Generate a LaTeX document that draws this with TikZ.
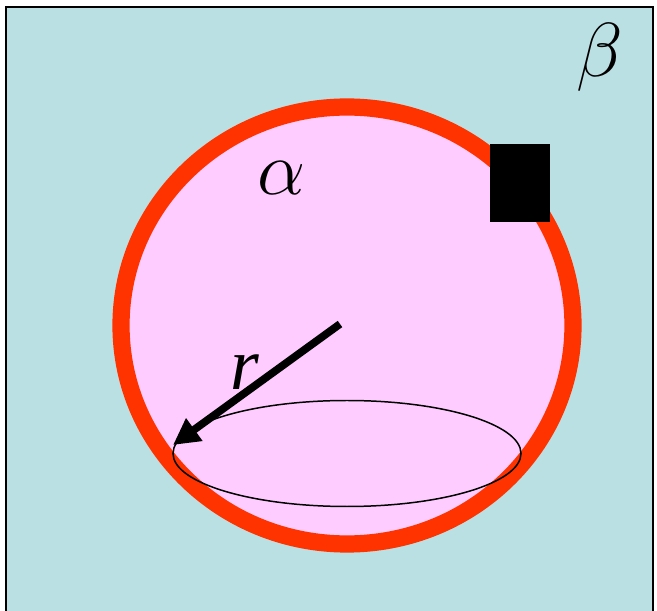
\documentclass[tikz,border=0pt]{standalone}
\usepackage{graphicx}
\usepackage{fontspec}
\setmainfont{Liberation Serif}
\usetikzlibrary{arrows.meta}
\definecolor{bgcyan}{RGB}{187,224,227}
\definecolor{phpink}{RGB}{255,204,255}
\definecolor{rimred}{RGB}{255,51,0}
\newcommand{\bigsym}[1]{\scalebox{1.75}{$#1$}}
\tikzset{
  sym/.style={inner sep=0pt, font=\fontsize{24.88}{30}\selectfont},
  rim/.style={draw=rimred, line width=9.8pt, fill=phpink},
  arr/.style={-{Triangle[length=15pt,width=15pt]}, line width=4.4pt}
}

\begin{document}
\begin{tikzpicture}[x=0.02cm, y=-0.02cm]
  \useasboundingbox (0,0) rectangle (657,611);
  \clip (0,0) rectangle (657,611);
  % matrix phase beta
  \draw[line width=1.1pt, fill=bgcyan] (6,7) rectangle (653,640);
  % particle alpha with its interface
  \draw[rim] (347,325.5) ellipse [x radius=226, y radius=218.5];
  \draw[line width=0.85pt] (347,453.5) ellipse [x radius=174, y radius=53];
  \fill (490,144) rectangle (550,222);
  \coordinate (centre) at (340,324);
  \coordinate (edge) at (173,445);
  \draw[arr] (centre) -- (edge);
  \node[sym, font=\fontsize{42}{42}\selectfont\itshape] (r) at (245,372) {r};
  \node[sym] (alpha) at (282,178) {\bigsym{\alpha}};
  \node[sym] (beta) at (600,57) {\bigsym{\beta}};
\end{tikzpicture}
\end{document}
